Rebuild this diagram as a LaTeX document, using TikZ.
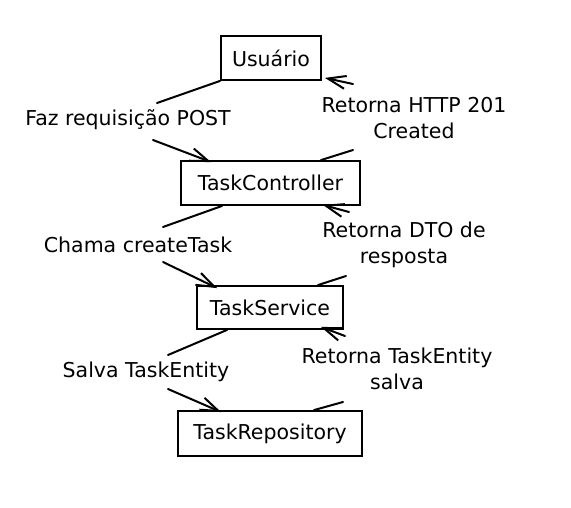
\documentclass[tikz,border=0pt]{standalone}
\usepackage{fontspec}
\setmainfont{DejaVu Sans}
\usetikzlibrary{arrows.meta}
\tikzset{
  box/.style={draw=black, line width=1.8pt, inner sep=0pt, font=\fontsize{20.5}{24}\selectfont},
  lbl/.style={inner sep=0pt, align=center, font=\fontsize{20.5}{26}\selectfont},
  edge/.style={draw=black, line width=2pt, line cap=round},
  tip/.style={edge, -{Straight Barb[length=18pt,width=13pt,line width=2pt]}}
}
\begin{document}
\begin{tikzpicture}[x=1pt,y=-1pt]
\useasboundingbox (0,0) rectangle (571,507);
% boxes
\node[box, minimum width=100pt, minimum height=44pt] (us) at (271,58) {Usuário};
\node[box, minimum width=179pt, minimum height=44pt] (tc) at (270.5,183) {TaskController};
\node[box, minimum width=146pt, minimum height=43pt] (ts) at (270,307.5) {TaskService};
\node[box, minimum width=184pt, minimum height=45pt] (tr) at (270,433.5) {TaskRepository};
% labels
\node[lbl] (l1) at (128,120) {Faz requisição POST};
\node[lbl] (l2) at (414,118) {Retorna HTTP 201\\Created};
\node[lbl] (l3) at (138,245) {Chama createTask};
\node[lbl] (l4) at (404,245) {Retorna DTO de\\resposta};
\node[lbl] (l5) at (146,372) {Salva TaskEntity};
\node[lbl] (l6) at (397,369) {Retorna TaskEntity\\salva};
% gap coordinates
\coordinate (e1a) at (157,103);
\coordinate (e1b) at (153,140);
\coordinate (e2a) at (353,150);
\coordinate (e2b) at (353,84);
\coordinate (e3a) at (163,227);
\coordinate (e3b) at (163,262);
\coordinate (e4a) at (346,276);
\coordinate (e4b) at (349,212);
\coordinate (e5a) at (168,355);
\coordinate (e5b) at (168,389);
\coordinate (e6a) at (343,402);
\coordinate (e6b) at (345,336);
% edges
\draw[edge] (us.south west) -- (e1a);
\draw[tip] (e1b) -- ([xshift=31pt,yshift=-2pt]tc.north west);
\draw[edge] ([xshift=-40pt]tc.north east) -- (e2a);
\draw[tip] (e2b) -- ([xshift=3pt,yshift=3pt]us.south east);
\draw[edge] ([xshift=42pt]tc.south west) -- (e3a);
\draw[tip] (e3b) -- ([xshift=21pt,yshift=-3pt]ts.north west);
\draw[edge] ([xshift=-26pt]ts.north east) -- (e4a);
\draw[tip] (e4b) -- ([xshift=-38pt,yshift=1pt]tc.south east);
\draw[edge] ([xshift=31pt]ts.south west) -- (e5a);
\draw[tip] (e5b) -- ([xshift=44pt,yshift=-2pt]tr.north west);
\draw[edge] ([xshift=-49pt]tr.north east) -- (e6a);
\draw[tip] (e6b) -- ([xshift=-23pt,yshift=3pt]ts.south east);
\end{tikzpicture}
\end{document}
